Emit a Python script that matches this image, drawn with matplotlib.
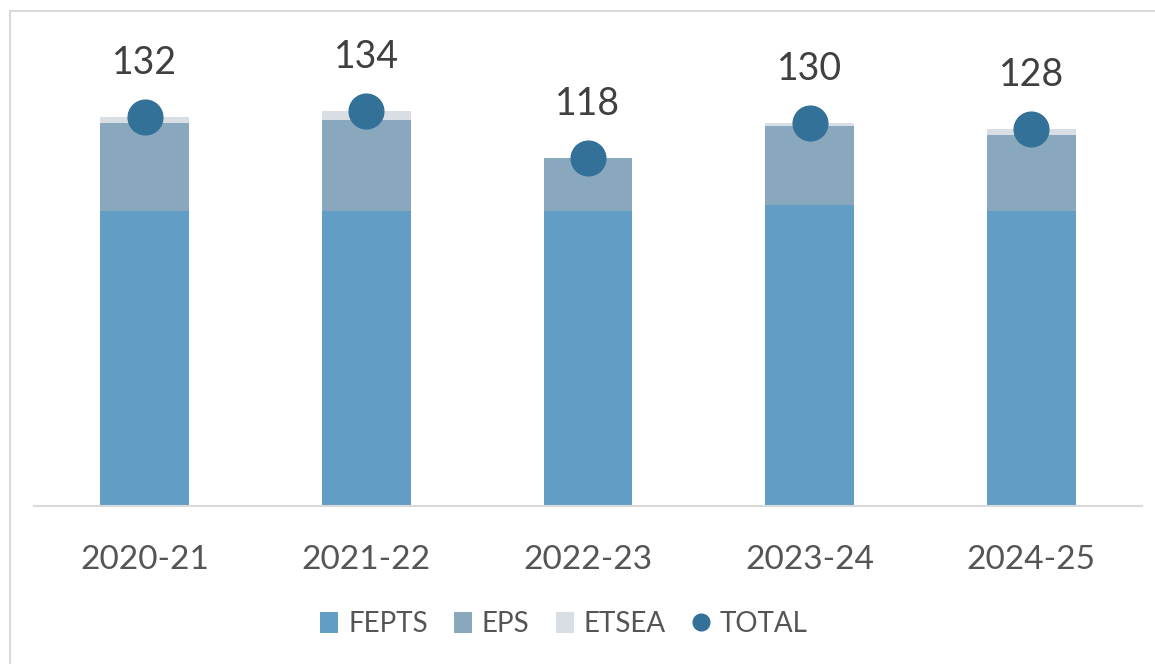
import matplotlib
matplotlib.use("Agg")
import matplotlib.pyplot as plt
from matplotlib.patches import Patch, Rectangle
from matplotlib.lines import Line2D
import numpy as np

plt.rcParams['font.family'] = ['Lato', 'DejaVu Sans']

# datos
cursos = ['2020-21', '2021-22', '2022-23', '2023-24', '2024-25']
fepts = [100, 100, 100, 102, 100]
eps = [30, 31, 18, 27, 26]
etsea = [2, 3, 0, 1, 2]
total = [132, 134, 118, 130, 128]

c_fepts = '#629DC6'
c_eps = '#89A8BE'
c_etsea = '#D9DEE5'
c_total = '#337199'

fig = plt.figure(figsize=(11.55, 6.64), dpi=100)
ax = fig.add_axes([34/1155, 158/664, 1108/1155, 496/664])

x = np.arange(len(cursos))
fepts = np.array(fepts)
eps = np.array(eps)
etsea = np.array(etsea)

ax.bar(x, fepts, width=0.4, color=c_fepts, zorder=2)
ax.bar(x, eps, width=0.4, bottom=fepts, color=c_eps, zorder=2)
ax.bar(x, etsea, width=0.4, bottom=fepts + eps, color=c_etsea, zorder=2)
ax.plot(x, total, 'o', color=c_total, markersize=25, zorder=3)

for xi, t in zip(x, total):
    ax.annotate(str(t), (xi, t), xytext=(0, 31), textcoords='offset points',
                ha='center', va='baseline', fontsize=27, color='#404040')

ax.set_xlim(-0.5, len(cursos) - 0.5)
ax.set_ylim(0, 496 / 2.947)
ax.set_xticks(x)
ax.set_xticklabels(cursos, fontsize=24, color='#555555')
ax.tick_params(axis='x', length=0, pad=28)
ax.set_yticks([])
for s in ['top', 'right', 'left']:
    ax.spines[s].set_visible(False)
ax.spines['bottom'].set_color('#D9D9D9')
ax.spines['bottom'].set_linewidth(1.5)

handles = [
    Patch(facecolor=c_fepts, label='FEPTS'),
    Patch(facecolor=c_eps, label='EPS'),
    Patch(facecolor=c_etsea, label='ETSEA'),
    Line2D([], [], marker='o', linestyle='none', color=c_total, markersize=12, label='TOTAL'),
]
leg = fig.legend(handles=handles, loc='center', bbox_to_anchor=(564/1155, 1 - 624/664),
                 ncol=4, frameon=False, fontsize=20, handlelength=0.65, handleheight=0.8,
                 handletextpad=0.35, columnspacing=0.95)
for t in leg.get_texts():
    t.set_color('#555555')

# marco exterior
fig.add_artist(Rectangle((9.5/1155, -0.1), 1.2, 1 - 10.5/664 + 0.1, transform=fig.transFigure,
                         fill=False, edgecolor='#D9D9D9', linewidth=1.5))

fig.savefig('out.png', dpi=100)
